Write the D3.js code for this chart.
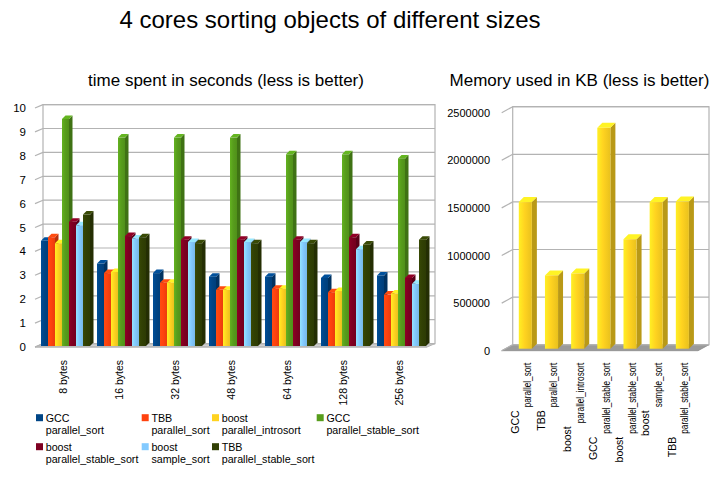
<!DOCTYPE html>
<html><head><meta charset="utf-8">
<script src="https://cdn.jsdelivr.net/npm/d3@7/dist/d3.min.js"></script>
<style>
body{margin:0;background:#fff}
svg{display:block}
text{font-family:"Liberation Sans",Arial,Helvetica,sans-serif;fill:#000}
</style>
</head><body>
<svg id="chart" width="717" height="479"></svg>
<script>
// ---------------- data ----------------
const chartTitle = "4 cores sorting objects of different sizes";
const timeTitle = "time spent in seconds (less is better)";
const memoryTitle = "Memory used in KB (less is better)";

const categories = ["8 bytes","16 bytes","32 bytes","48 bytes","64 bytes","128 bytes","256 bytes"];
const seriesNames = [
  "GCC\nparallel_sort",
  "TBB\nparallel_sort",
  "boost\nparallel_introsort",
  "GCC\nparallel_stable_sort",
  "boost\nparallel_stable_sort",
  "boost\nsample_sort",
  "TBB\nparallel_stable_sort"
];
const seriesColors = ["#004586","#ff420e","#ffd320","#579d1c","#7e0021","#83caff","#314004"];

const gccParallelSort      = [4.40, 3.45, 3.05, 2.90, 2.90, 2.85, 2.95];
const tbbParallelSort      = [4.55, 3.05, 2.65, 2.35, 2.40, 2.25, 2.15];
const boostParallelIntro   = [4.30, 3.10, 2.65, 2.35, 2.40, 2.30, 2.20];
const gccParallelStable    = [9.50, 8.72, 8.72, 8.72, 8.02, 8.02, 7.85];
const boostParallelStable  = [5.20, 4.60, 4.45, 4.45, 4.45, 4.55, 2.85];
const boostSampleSort      = [5.05, 4.50, 4.35, 4.35, 4.35, 4.05, 2.60];
const tbbParallelStable    = [5.50, 4.55, 4.30, 4.30, 4.30, 4.25, 4.45];
const timeSeries = [gccParallelSort, tbbParallelSort, boostParallelIntro, gccParallelStable,
                    boostParallelStable, boostSampleSort, tbbParallelStable];
const timeTicks = [0,1,2,3,4,5,6,7,8,9,10];

const memoryCategories = seriesNames;
const memoryValues = [1540000, 770000, 790000, 2320000, 1150000, 1540000, 1545000];
const memoryTicks = [0, 500000, 1000000, 1500000, 2000000, 2500000];
const memoryColor = "#ffd320";

// ---------------- drawing ----------------
const svg = d3.select("#chart");
const defs = svg.append("defs");
const gridColor = "#b3b3b3";

function frontGradient(id, color) {
  const c = d3.color(color);
  const g = defs.append("linearGradient").attr("id", id).attr("x1","0").attr("x2","1").attr("y1","0").attr("y2","0");
  g.append("stop").attr("offset","0%").attr("stop-color", c.brighter(0.35).formatHex());
  g.append("stop").attr("offset","45%").attr("stop-color", c.formatHex());
  g.append("stop").attr("offset","100%").attr("stop-color", c.darker(0.25).formatHex());
  return "url(#" + id + ")";
}

function drawBar(g, x, yTop, yBottom, w, ddx, ddy, color, fill) {
  const c = d3.color(color);
  g.append("polygon")
    .attr("points", [[x+w, yTop],[x+w+ddx, yTop+ddy],[x+w+ddx, yBottom+ddy],[x+w, yBottom]].map(p=>p.join(",")).join(" "))
    .attr("fill", c.darker(0.9).formatHex());
  g.append("polygon")
    .attr("points", [[x, yTop],[x+ddx, yTop+ddy],[x+w+ddx, yTop+ddy],[x+w, yTop]].map(p=>p.join(",")).join(" "))
    .attr("fill", c.brighter(0.4).formatHex());
  g.append("rect").attr("x", x).attr("y", yTop).attr("width", w).attr("height", Math.max(0, yBottom - yTop))
    .attr("fill", fill);
}

// Titles
svg.append("text").attr("x", 330).attr("y", 28).attr("text-anchor","middle")
  .style("font-size","24px").text(chartTitle);
svg.append("text").attr("x", 226).attr("y", 86).attr("text-anchor","middle")
  .style("font-size","17px").text(timeTitle);
svg.append("text").attr("x", 579.5).attr("y", 86).attr("text-anchor","middle")
  .style("font-size","17px").text(memoryTitle);

// ---------- left chart ----------
{
  const X0 = 35, X1 = 427, YB = 347, YT = 108, DX = 8, DY = -3.4;
  const y = d3.scaleLinear().domain([0, 10]).range([YB, YT]);
  const x0 = d3.scaleBand().domain(categories).range([X0, X1]).paddingInner(0.125).paddingOuter(0.0625);
  const x1 = d3.scaleBand().domain(d3.range(seriesNames.length)).range([0, x0.bandwidth()]);
  const g = svg.append("g");

  g.append("polygon").attr("points", [[X0,YB],[X1,YB],[X1+DX,YB+DY],[X0+DX,YB+DY]].map(p=>p.join(",")).join(" "))
    .attr("fill","#cfcfcf").attr("stroke", gridColor).attr("stroke-width",1);
  g.append("rect").attr("x", X0+DX).attr("y", YT+DY).attr("width", X1-X0).attr("height", YB-YT)
    .attr("fill","#fff").attr("stroke", gridColor).attr("stroke-width",1.2);
  timeTicks.forEach(t => {
    g.append("line").attr("x1", X0+DX).attr("x2", X1+DX).attr("y1", y(t)+DY).attr("y2", y(t)+DY)
      .attr("stroke", gridColor).attr("stroke-width",1.2);
    g.append("line").attr("x1", X0).attr("x2", X0+DX).attr("y1", y(t)).attr("y2", y(t)+DY)
      .attr("stroke", gridColor).attr("stroke-width",1.2);
    g.append("text").attr("x", 26).attr("y", y(t)+4).attr("text-anchor","end")
      .style("font-size","11.5px").text(t);
  });
  g.append("line").attr("x1", X0).attr("x2", X1).attr("y1", YB).attr("y2", YB)
    .attr("stroke", gridColor).attr("stroke-width",1.2);

  const grads = seriesColors.map((c,i) => frontGradient("tg"+i, c));
  const SX = 2.5, SY = -1, BDX = 3.5, BDY = -3.5;
  categories.forEach((cat, j) => {
    seriesNames.forEach((s, i) => {
      const v = timeSeries[i][j];
      drawBar(g, x0(cat)+x1(i)+SX, y(v)+SY, YB+SY, x1.bandwidth(), BDX, BDY, seriesColors[i], grads[i]);
    });
    const cx = x0(cat) + x0.bandwidth()/2;
    g.append("text").attr("transform", `translate(${cx+3.8},360) rotate(-90)`)
      .attr("text-anchor","end").style("font-size","10.5px").text(cat);
  });
}

// ---------- right chart ----------
{
  const X0 = 501.7, X1 = 698, YB = 350.7, YT = 112.7, DX = 11, DY = -6;
  const y = d3.scaleLinear().domain([0, 2500000]).range([YB, YT]);
  const x = d3.scaleBand().domain(memoryCategories).range([X0, X1]).padding(0.5);
  const g = svg.append("g");

  g.append("polygon").attr("points", [[X0,YB],[X1,YB],[X1+DX,YB+DY],[X0+DX,YB+DY]].map(p=>p.join(",")).join(" "))
    .attr("fill","#9a9a9a").attr("stroke","#8a8a8a").attr("stroke-width",0.8);
  g.append("rect").attr("x", X0+DX).attr("y", YT+DY).attr("width", X1-X0).attr("height", YB-YT)
    .attr("fill","#fff").attr("stroke", gridColor).attr("stroke-width",1.2);
  memoryTicks.forEach(t => {
    g.append("line").attr("x1", X0+DX).attr("x2", X1+DX).attr("y1", y(t)+DY).attr("y2", y(t)+DY)
      .attr("stroke", gridColor).attr("stroke-width",1.2);
    g.append("line").attr("x1", X0).attr("x2", X0+DX).attr("y1", y(t)).attr("y2", y(t)+DY)
      .attr("stroke", gridColor).attr("stroke-width",1.2);
    g.append("text").attr("x", 490).attr("y", y(t)+4).attr("text-anchor","end")
      .style("font-size","11px").text(t);
  });

  const grad = frontGradient("mg", memoryColor);
  const SX = 4, SY = -2, BDX = 5, BDY = -5;
  memoryCategories.forEach((cat, i) => {
    drawBar(g, x(cat)+SX, y(memoryValues[i])+SY, YB+SY, x.bandwidth(), BDX, BDY, memoryColor, grad);
    const cx = x(cat) + x.bandwidth()/2;
    const lines = cat.split("\n");
    const fs = "10.5px";
    const t2 = g.append("text").attr("transform", `translate(${cx+6.3+3.6},362.7) rotate(-90)`)
      .attr("text-anchor","end").style("font-size",fs).text(lines[1]);
    const nat2 = t2.node().getComputedTextLength();
    const len2 = nat2 * 0.78;
    t2.attr("textLength", len2).attr("lengthAdjust", "spacingAndGlyphs");
    g.append("text").attr("transform", `translate(${cx-6.3+3.6},${362.7+len2+3}) rotate(-90)`)
      .attr("text-anchor","end").style("font-size",fs).text(lines[0]);
  });
}

// ---------- legend ----------
{
  const colX = [36, 141.7, 212, 316.7];
  const rowY = [421.7, 450.7];
  const g = svg.append("g");
  seriesNames.forEach((s, i) => {
    const col = i < 4 ? i : i - 4;
    const row = i < 4 ? 0 : 1;
    const lx = colX[col], ly = rowY[row];
    g.append("rect").attr("x", lx).attr("y", ly-7.5).attr("width", 7).attr("height", 7)
      .attr("fill", seriesColors[i]);
    const lines = s.split("\n");
    lines.forEach((ln, k) => {
      g.append("text").attr("x", lx+9.7).attr("y", ly + k*12.5)
        .style("font-size","10.7px").text(ln);
    });
  });
}
</script>
</body></html>
